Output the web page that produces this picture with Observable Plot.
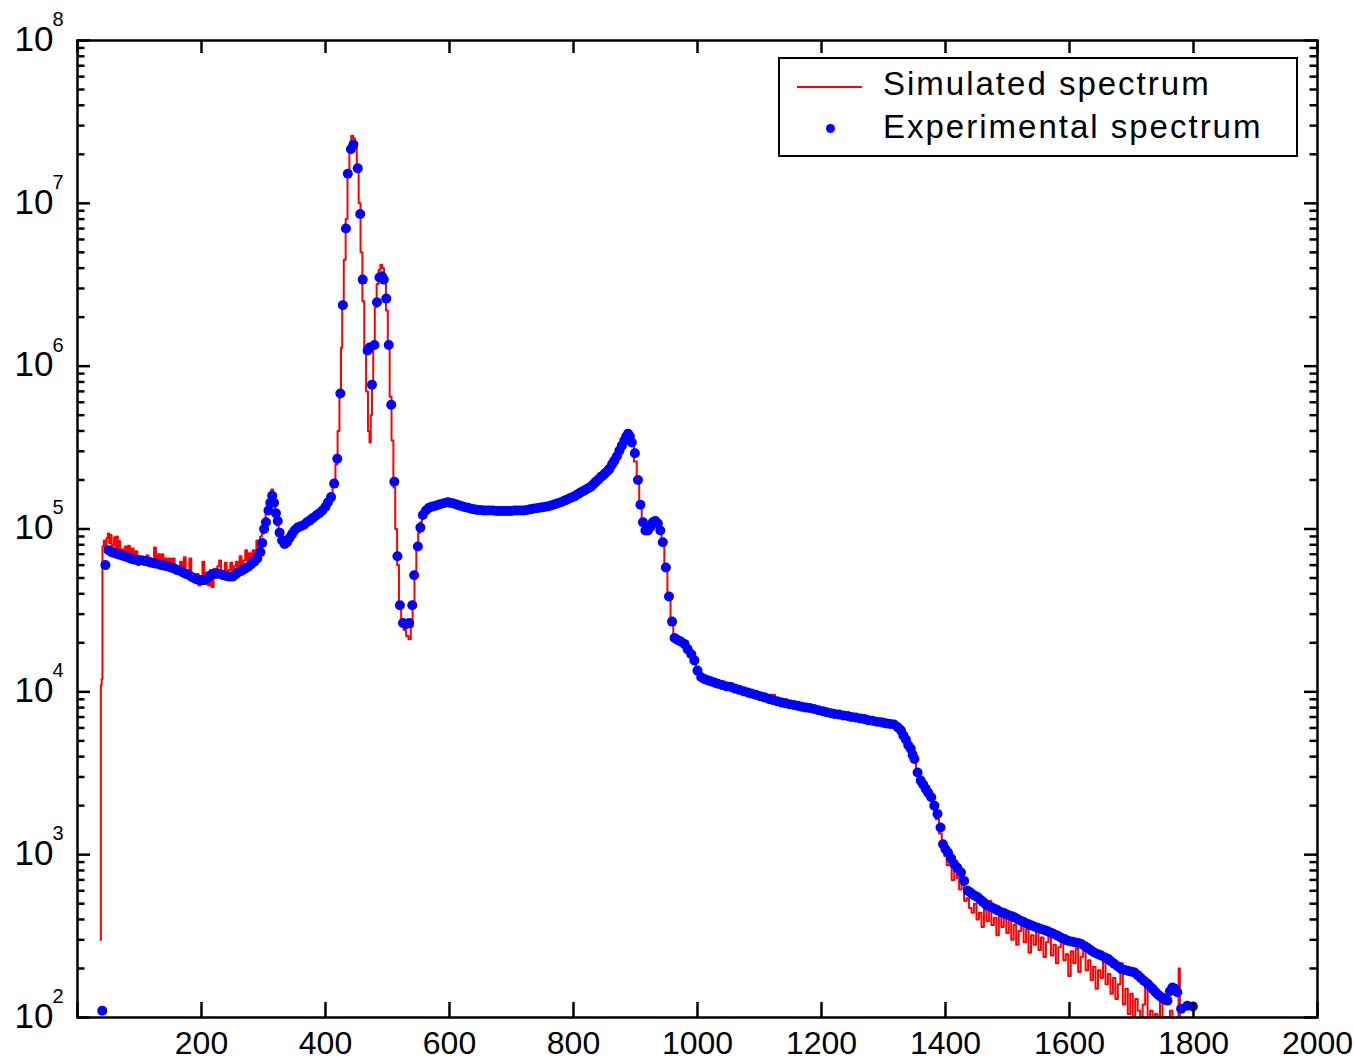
<!DOCTYPE html>
<html><head><meta charset="utf-8">
<script src="https://cdn.jsdelivr.net/npm/d3@7"></script>
<script src="https://cdn.jsdelivr.net/npm/@observablehq/plot@0.6"></script>
<style>
body{margin:0;background:#fff;}
#wrap{position:relative;width:1354px;height:1061px;font-family:"Liberation Sans",Arial,sans-serif;overflow:hidden;}
#legbox{position:absolute;left:778px;top:57px;width:516px;height:96px;border:2.5px solid #000;background:#fff;}
.legline{position:absolute;left:797px;top:85.5px;width:65px;height:2.5px;background:#f00;}
.legdot{position:absolute;left:826px;top:123.5px;width:9px;height:9px;border-radius:50%;background:#00f;}
.legtxt{position:absolute;left:883px;font-size:33px;line-height:33px;letter-spacing:2px;color:#000;white-space:nowrap;}
</style></head>
<body><div id="wrap"></div>
<script>
// ---- data ----
const legendLabels = ["Simulated spectrum", "Experimental spectrum"];
const xTickValues = [0, 200, 400, 600, 800, 1000, 1200, 1400, 1600, 1800, 2000];
const xTickLabels = [200, 400, 600, 800, 1000, 1200, 1400, 1600, 1800, 2000];
const yDecades = [2, 3, 4, 5, 6, 7, 8];
const yMinorMultipliers = [2, 3, 4, 5, 6, 7, 8, 9];

const experimentalSpectrum = [
[40,110],[45,6.0e4],[50,7.4e4],[55,7.2e4],[60,7.1e4],[65,7.0e4],[70,6.9e4],[75,6.8e4],[80,6.7e4],[85,6.6e4],
[90,6.5e4],[95,6.45e4],[100,6.4e4],[105,6.4e4],[110,6.35e4],[115,6.3e4],[120,6.2e4],[125,6.15e4],[130,6.1e4],[135,6.0e4],
[140,5.95e4],[145,5.9e4],[150,5.8e4],[155,5.75e4],[160,5.6e4],[165,5.55e4],[170,5.4e4],[175,5.3e4],[180,5.2e4],[185,5.05e4],
[190,4.95e4],[195,4.87e4],[200,4.85e4],[205,4.87e4],[210,5.0e4],[215,5.2e4],[220,5.3e4],[225,5.35e4],[230,5.3e4],[235,5.2e4],
[240,5.15e4],[245,5.1e4],[250,5.1e4],[255,5.25e4],[260,5.45e4],[265,5.55e4],[270,5.7e4],[275,5.85e4],[280,6.05e4],[285,6.3e4],
[290,6.6e4],[295,7.2e4],[298,8.2e4],[301,1.0e5],[304,1.1e5],[308,1.3e5],[311,1.45e5],[314,1.6e5],[317,1.45e5],[320,1.25e5],
[323,1.12e5],[326,9.5e4],[330,8.5e4],[334,8.1e4],[338,8.3e4],[342,8.8e4],[346,9.3e4],[350,9.8e4],[355,1.02e5],[360,1.04e5],
[365,1.06e5],[370,1.1e5],[375,1.13e5],[380,1.17e5],[385,1.21e5],[390,1.25e5],[395,1.3e5],[400,1.37e5],[404,1.46e5],[409,1.57e5],
[414,1.9e5],[419,2.7e5],[424,6.8e5],[428,2.37e6],[433,7.0e6],[436,1.52e7],[441,2.15e7],[445,2.3e7],[452,1.64e7],[456,8.6e6],
[460,3.4e6],[468,1.25e6],[471,1.3e6],[475,7.7e5],[479,1.35e6],[483,2.47e6],[487,3.5e6],[491,3.56e6],[494,3.4e6],[498,2.6e6],
[502,1.35e6],[506,5.8e5],[511,1.95e5],[516,6.8e4],[520,3.4e4],[525,2.65e4],[530,2.6e4],[535,2.65e4],[540,3.4e4],[543,5.2e4],
[549,7.8e4],[553,1.02e5],[557,1.22e5],[562,1.3e5],[567,1.35e5],[571,1.37e5],[575,1.38e5],[580,1.4e5],[585,1.42e5],[591,1.44e5],[597,1.46e5],
[600,1.45e5],[605,1.44e5],[610,1.42e5],[615,1.40e5],[620,1.38e5],[625,1.36e5],[630,1.35e5],[635,1.33e5],[640,1.32e5],[645,1.31e5],
[650,1.31e5],[655,1.30e5],[660,1.30e5],[665,1.30e5],[670,1.30e5],[675,1.29e5],[680,1.29e5],[685,1.29e5],[690,1.29e5],[695,1.29e5],
[700,1.29e5],[705,1.30e5],[710,1.30e5],[715,1.30e5],[720,1.30e5],[725,1.31e5],[730,1.32e5],[735,1.33e5],[740,1.34e5],[745,1.35e5],
[750,1.36e5],[755,1.37e5],[760,1.38e5],[765,1.40e5],[770,1.42e5],[775,1.44e5],[780,1.46e5],[785,1.49e5],[790,1.52e5],[795,1.55e5],
[800,1.58e5],[803,1.60e5],[806,1.63e5],[809,1.65e5],[812,1.68e5],[816,1.71e5],[820,1.75e5],[824,1.78e5],[828,1.82e5],[832,1.88e5],
[836,1.95e5],[840,2.01e5],[844,2.08e5],[848,2.14e5],[851,2.2e5],[855,2.27e5],[858,2.34e5],[862,2.48e5],
[866,2.63e5],[870,2.8e5],[874,3.03e5],[878,3.25e5],[882,3.49e5],[885,3.7e5],[888,3.84e5],[891,3.7e5],[894,3.4e5],[899,2.92e5],
[904,2.0e5],[908,1.41e5],[912,1.1e5],[916,9.8e4],[920,9.8e4],[924,1.03e5],[928,1.1e5],[932,1.12e5],[936,1.08e5],[940,9.8e4],
[944,8.3e4],[949,5.8e4],[954,3.85e4],[959,2.7e4],[963,2.14e4],[968,2.08e4],[973,2.04e4],[979,1.97e4],[984,1.83e4],[990,1.7e4],
[995,1.56e4],[1000,1.35e4],[1006,1.23e4],[1011,1.2e4],[1016,1.18e4],[1021,1.16e4],[1027,1.14e4],[1033,1.12e4],[1040,1.10e4],[1047,1.08e4],
[1054,1.07e4],[1060,1.05e4],[1067,1.03e4],[1074,1.01e4],[1081,9.9e3],[1087,9.75e3],[1094,9.6e3],[1101,9.4e3],[1108,9.25e3],[1115,9.05e3],
[1121,8.9e3],[1128,8.75e3],[1135,8.6e3],[1141,8.5e3],[1148,8.4e3],[1155,8.3e3],[1162,8.2e3],[1168,8.1e3],[1175,8.0e3],[1181,7.95e3],
[1188,7.85e3],[1195,7.7e3],[1202,7.6e3],[1208,7.5e3],[1215,7.4e3],[1221,7.3e3],[1228,7.25e3],[1235,7.15e3],[1242,7.1e3],[1248,7.0e3],
[1255,6.95e3],[1262,6.85e3],[1269,6.8e3],[1275,6.7e3],[1282,6.65e3],[1289,6.55e3],[1296,6.5e3],[1300,6.45e3],[1305,6.4e3],[1311,6.35e3],
[1317,6.3e3],[1323,6.05e3],[1328,5.8e3],[1332,5.4e3],
[1336,5.1e3],[1340,4.7e3],[1344,4.47e3],[1347,4.1e3],[1350,3.87e3],[1355,3.2e3],[1360,2.85e3],[1364,2.7e3],[1368,2.54e3],[1372,2.4e3],
[1377,2.25e3],[1382,2.0e3],[1387,1.78e3],[1392,1.47e3],[1396,1.16e3],[1400,1.08e3],[1404,1.03e3],[1409,950],[1414,877],[1419,830],
[1425,778],[1430,690],[1436,601],[1440,585],[1444,570],[1448,558],[1452,547],[1456,530],[1460,515],[1464,500],[1468,486],[1474,475],
[1479,465],[1484,455],[1490,443],[1495,436],[1500,428],[1506,420],[1511,412],[1516,402],[1522,392],[1527,384],[1533,375],[1538,368],
[1543,362],[1549,356],[1554,350],[1560,344],[1565,338],[1570,332],[1575,326],[1581,318],[1586,310],[1592,303],[1597,296],[1603,293],
[1608,290],[1614,287],[1619,283],[1625,274],[1630,266],[1635,258],[1640,251],[1646,245],[1651,240],[1657,234],[1662,229],[1667,221],
[1672,214],[1678,206],[1683,199],[1689,196],[1694,194],[1700,191],[1705,189],[1710,182],[1715,175],[1720,168],[1726,161],[1730,155],
[1734,150],[1738,144],[1742,139],[1746,135],[1750,132],[1754,129],[1758,127],[1762,145],[1766,153],[1770,150],[1774,143],[1780,113],
[1790,118],[1799,117]
];

const simulatedSpectrum = [
[37,300],[38.5,1.1e4],[39.5,1.2e4],[41,7.8e4],[44,8.5e4],[46,7.4e4],[48,8.8e4],[50,9.4e4],[52,8.2e4],[54,9.2e4],
[56,7.2e4],[58,8.0e4],[60,8.9e4],[62,7.6e4],[64,9.0e4],[66,7.4e4],[68,8.4e4],[70,6.6e4],[72,7.5e4],[75,6.9e4],
[78,7.8e4],[80,6.6e4],[83,7.9e4],[86,7.0e4],[89,7.6e4],[92,6.2e4],[95,7.3e4],[98,6.0e4],[101,6.8e4],[104,6.3e4],
[107,6.6e4],[110,6.0e4],[113,6.9e4],[116,5.9e4],[119,6.5e4],[122,6.2e4],[125,7.7e4],[128,6.0e4],[131,7.0e4],[134,6.0e4],
[137,7.0e4],[140,5.7e4],[143,6.6e4],[146,6.0e4],[149,6.6e4],[152,5.6e4],[155,6.6e4],[158,5.5e4],[161,5.9e4],[164,5.3e4],
[167,6.3e4],[170,5.2e4],[173,6.7e4],[176,5.1e4],[179,5.6e4],[182,6.6e4],[185,4.9e4],[188,5.3e4],[191,4.7e4],[194,5.3e4],
[197,4.5e4],[200,5.1e4],[203,6.3e4],[206,4.6e4],[209,5.4e4],[212,4.5e4],[215,5.6e4],[218,4.4e4],[221,5.7e4],[224,5.0e4],
[227,5.9e4],[230,6.4e4],[233,5.2e4],[236,5.5e4],[239,6.2e4],[242,5.0e4],[245,5.6e4],[248,6.2e4],[251,5.2e4],[254,5.9e4],
[257,6.3e4],[260,5.4e4],[263,6.8e4],[266,5.8e4],[269,6.4e4],[272,7.4e4],[275,6.4e4],[278,7.1e4],[281,6.4e4],[284,7.4e4],
[287,6.8e4],[290,8.5e4],[293,7.6e4],[296,9.0e4],[299,9.4e4],[302,1.15e5],[305,1.25e5],[308,1.45e5],[311,1.6e5],[314,1.75e5],
[317,1.5e5],[320,1.2e5],[323,1.05e5],[326,9.0e4],[330,8.5e4],[334,8.2e4],[338,8.6e4],[342,9.0e4],[346,9.2e4],[350,1.0e5],
[355,1.05e5],[360,1.08e5],[365,1.03e5],[370,1.12e5],[375,1.15e5],[380,1.18e5],[385,1.22e5],[390,1.25e5],[395,1.3e5],[400,1.38e5],
[404,1.5e5],[409,1.6e5],[414,1.95e5],[418,2.5e5],[421,4.0e5],[424,7.0e5],[426,1.3e6],[428,2.5e6],[431,4.5e6],[434,8.0e6],
[437,1.5e7],[440,2.1e7],[443,2.6e7],[446,2.5e7],[449,2.2e7],[452,1.7e7],[455,1.0e7],[458,5.0e6],[461,2.5e6],[464,1.2e6],
[467,7.0e5],[470,4.0e5],[472,3.4e5],[474,5.0e5],[476,8.0e5],[478,1.4e6],[481,2.3e6],[484,3.2e6],[487,3.9e6],[490,4.2e6],
[493,4.0e6],[496,3.3e6],[499,2.2e6],[502,1.3e6],[505,6.5e5],[508,3.5e5],[511,1.8e5],[514,1.0e5],[517,6.0e4],[520,3.4e4],
[524,2.6e4],[528,2.4e4],[532,2.2e4],[536,2.1e4],[539,2.5e4],[542,3.5e4],[545,5.5e4],[548,7.5e4],[551,9.5e4],[554,1.1e5],
[557,1.18e5],[560,1.25e5],[565,1.3e5],[575,1.37e5],[585,1.42e5],[597,1.46e5],[610,1.42e5],[630,1.35e5],[650,1.31e5],[670,1.30e5],
[690,1.29e5],[710,1.30e5],[730,1.32e5],[750,1.36e5],[770,1.42e5],[790,1.52e5],[810,1.66e5],[830,1.85e5],[850,2.2e5],[866,2.63e5],
[878,3.25e5],[886,3.6e5],[890,3.5e5],[895,3.3e5],[900,2.6e5],[904,2.0e5],[908,1.4e5],[912,1.1e5],[916,1.0e5],[922,1.0e5],
[928,1.1e5],[934,1.1e5],[940,9.8e4],[944,8.3e4],[949,5.8e4],[954,3.9e4],[959,2.7e4],[963,2.15e4],[973,2.0e4],[984,1.85e4],
[995,1.56e4],[1000,1.35e4],[1006,1.25e4],[1020,1.18e4],[1040,1.12e4],[1054,1.1e4],[1070,1.03e4],[1090,9.7e3],[1108,9.4e3],[1120,9.6e3],
[1130,9.1e3],[1140,9.0e3],[1150,8.4e3],[1160,8.3e3],[1175,8.1e3],[1190,7.9e3],[1202,7.7e3],[1215,7.6e3],[1228,7.5e3],[1240,7.2e3],
[1255,7.1e3],[1265,7.0e3],[1275,6.9e3],[1290,6.7e3],[1300,6.5e3],[1310,6.4e3],[1320,6.1e3],[1328,5.7e3],[1336,5.0e3],[1344,4.4e3],
[1350,3.8e3],[1355,3.1e3],[1360,2.8e3],[1365,2.6e3],[1370,2.45e3],[1377,2.2e3],[1382,1.9e3],[1387,1.65e3],[1392,1.35e3],[1396,1.1e3],
[1400,980],[1404,860],[1408,930],[1412,700],[1416,820],[1420,720],[1424,610],[1428,680],[1432,520],[1436,540],
[1440,470],[1444,440],[1448,500],[1452,400],[1456,440],[1460,360],[1464,470],[1468,390],[1472,520],[1476,370],
[1480,410],[1484,320],[1488,420],[1492,360],[1496,450],[1500,330],[1504,400],[1508,300],[1512,370],[1516,280],
[1520,340],[1524,400],[1528,290],[1532,350],[1536,250],[1540,320],[1544,280],[1548,370],[1552,260],[1556,310],
[1560,235],[1564,290],[1568,330],[1572,240],[1576,280],[1580,215],[1584,270],[1588,320],[1592,225],[1596,245],
[1600,180],[1604,255],[1608,215],[1612,265],[1616,190],[1620,235],[1624,285],[1628,195],[1632,225],[1636,170],
[1640,205],[1644,150],[1648,195],[1652,175],[1656,240],[1660,160],[1664,185],[1668,140],[1672,175],[1676,130],
[1680,160],[1684,215],[1688,120],[1692,150],[1696,105],[1700,140],[1704,90],[1708,130],[1712,110],[1716,85],
[1720,120],[1724,160],[1728,90],[1732,110],[1736,80],[1740,105],[1744,85],[1748,125],[1752,75],[1756,100],
[1760,80],[1764,110],[1768,85],[1772,95],[1775,75],[1777,200],[1779,85]
];

// ---- derived tables ----
const exp = experimentalSpectrum.map(([x, y]) => ({x, y}));
const sim = simulatedSpectrum.map(([x, y]) => ({x, y}));
const yMajor = yDecades.map(e => ({v: Math.pow(10, e), e}));
const yMinor = [];
for (const e of yDecades.slice(0, -1)) for (const m of yMinorMultipliers) yMinor.push(m * Math.pow(10, e));

const W = 1354, H = 1061, ML = 77, MR = 37, MT = 40, MB = 44;
const FW = W - ML - MR, FH = H - MT - MB;
const font = '"Liberation Sans", Arial, sans-serif';

const chart = Plot.plot({
  width: W, height: H,
  marginLeft: ML, marginRight: MR, marginTop: MT, marginBottom: MB,
  x: {domain: [0, 2000], axis: null},
  y: {type: "log", domain: [1e2, 1e8], axis: null},
  style: {fontFamily: font, background: "white", color: "black"},
  marks: [
    Plot.line(sim, {x: "x", y: "y", stroke: "#ff0000", strokeWidth: 2, curve: "step", clip: true}),
    Plot.dot(exp, {x: "x", y: "y", r: 5, fill: "#0000ff", stroke: "none", clip: true}),
    Plot.frame({stroke: "black", strokeWidth: 2.5}),
    // y ticks (inward), left and right
    Plot.tickY(yMinor, {y: d => d, insetRight: FW - 7.5, stroke: "black", strokeWidth: 2.5}),
    Plot.tickY(yMajor, {y: "v", insetRight: FW - 13, stroke: "black", strokeWidth: 2.5}),
    Plot.tickY(yMinor, {y: d => d, insetLeft: FW - 7.5, stroke: "black", strokeWidth: 2.5}),
    Plot.tickY(yMajor, {y: "v", insetLeft: FW - 13, stroke: "black", strokeWidth: 2.5}),
    // x ticks (inward), top and bottom
    Plot.tickX(xTickValues, {x: d => d, insetBottom: FH - 13, stroke: "black", strokeWidth: 2.5}),
    Plot.tickX(xTickValues, {x: d => d, insetTop: FH - 15, stroke: "black", strokeWidth: 2.5}),
    // x tick labels
    Plot.text(xTickLabels, {x: d => d, frameAnchor: "bottom", lineAnchor: "middle", text: d => String(d), dy: 26.5, fontSize: 32, fill: "black"}),
    // y tick labels: 10 + superscript exponent
    Plot.text(yMajor, {y: "v", frameAnchor: "left", lineAnchor: "middle", text: d => "10", textAnchor: "end", dx: -24, dy: -1, fontSize: 35, fill: "black"}),
    Plot.text(yMajor, {y: "v", frameAnchor: "left", lineAnchor: "middle", text: d => String(d.e), textAnchor: "start", dx: -25, dy: -21, fontSize: 20, fill: "black"})
  ]
});

const wrap = document.getElementById("wrap");
wrap.appendChild(chart);

// legend (inside the plot area, as in the reference)
const box = document.createElement("div"); box.id = "legbox"; wrap.appendChild(box);
const ln = document.createElement("div"); ln.className = "legline"; wrap.appendChild(ln);
const dt = document.createElement("div"); dt.className = "legdot"; wrap.appendChild(dt);
legendLabels.forEach((t, i) => {
  const s = document.createElement("div");
  s.className = "legtxt";
  s.style.top = (i === 0 ? 67 : 110) + "px";
  s.textContent = t;
  wrap.appendChild(s);
});
</script>
</body></html>
